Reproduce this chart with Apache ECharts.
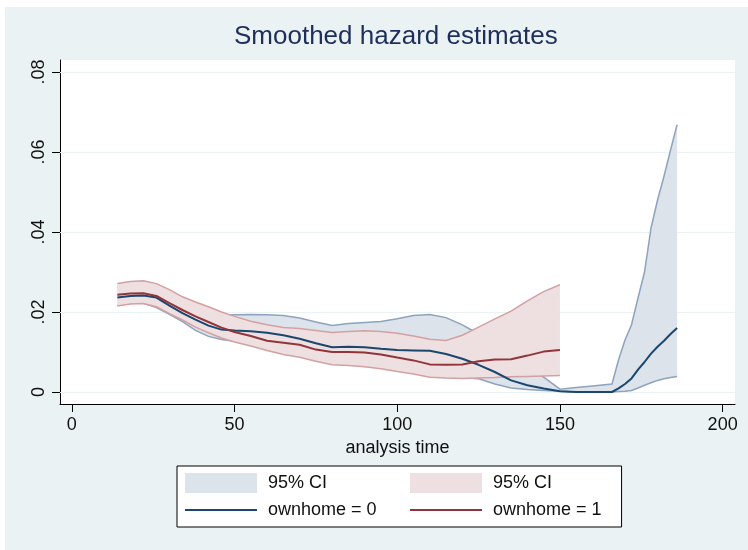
<!DOCTYPE html>
<html>
<head>
<meta charset="utf-8">
<script src="https://cdn.jsdelivr.net/npm/echarts@6/dist/echarts.min.js"></script>
<style>
  html, body { margin: 0; padding: 0; background: #fff; }
  #panel { position: absolute; left: 5px; top: 7px; width: 743px; height: 543px; background: #eaf2f3; }
  #chart { position: absolute; left: 0; top: 0; width: 748px; height: 550px; }
</style>
</head>
<body>
<div id="panel"></div>
<div id="chart"></div>
<script>
// analysis time points
const timeRed = [14, 18, 22, 26, 30, 34, 38, 42, 46, 50, 55, 60, 65, 70, 75, 80, 85, 90, 95, 100,
  105, 110, 115, 120, 125, 130, 135, 140, 145, 150];
const timeBlue = [14, 18, 22, 26, 30, 34, 38, 42, 46, 50, 55, 60, 65, 70, 75, 80, 85, 90, 95, 100,
  105, 110, 115, 120, 125, 130, 135, 140, 145, 150, 155, 160, 166, 168, 170, 172, 174, 176, 178,
  180, 182, 184, 186];

// ownhome = 0
const hazard0 = [0.0236, 0.0240, 0.0241, 0.0236, 0.0216, 0.0197, 0.0181, 0.0166, 0.0156, 0.0154,
  0.0152, 0.0148, 0.0142, 0.0133, 0.0122, 0.0112, 0.0113, 0.0112, 0.0108, 0.0105, 0.0104, 0.0103,
  0.0095, 0.0083, 0.0068, 0.0050, 0.0029, 0.0017, 0.0009, 0.0002, 0, 0, 0, 0.0009, 0.0020, 0.0034,
  0.0056, 0.0075, 0.0096, 0.0113, 0.0128, 0.0145, 0.0160];
const upper0 = [0.0262, 0.0266, 0.0267, 0.0260, 0.0242, 0.0225, 0.0212, 0.0200, 0.0192, 0.0193,
  0.0194, 0.0193, 0.0191, 0.0185, 0.0175, 0.0166, 0.0171, 0.0174, 0.0176, 0.0183, 0.0191, 0.0194,
  0.0186, 0.0168, 0.0145, 0.0115, 0.0085, 0.0058, 0.0037, 0.0007, 0.0011, 0.0015, 0.0020, 0.0080,
  0.0130, 0.0168, 0.0235, 0.0300, 0.0410, 0.0480, 0.0540, 0.0605, 0.0668];
const lower0 = [0.0218, 0.0222, 0.0222, 0.0211, 0.0194, 0.0176, 0.0154, 0.0139, 0.0131, 0.0127,
  0.0118, 0.0108, 0.0099, 0.0092, 0.0082, 0.0073, 0.0070, 0.0067, 0.0062, 0.0057, 0.0050, 0.0042,
  0.0040, 0.0036, 0.0033, 0.0020, 0.0010, 0.0006, 0.0004, 0.0002, 0, 0, 0, 0.0001, 0.0002, 0.0004,
  0.0010, 0.0017, 0.0023, 0.0029, 0.0033, 0.0036, 0.0039];

// ownhome = 1
const hazard1 = [0.0243, 0.0246, 0.0247, 0.0240, 0.0222, 0.0205, 0.0189, 0.0175, 0.0161, 0.0150,
  0.0140, 0.0128, 0.0123, 0.0118, 0.0106, 0.0100, 0.0100, 0.0099, 0.0094, 0.0086, 0.0079, 0.0069,
  0.0068, 0.0069, 0.0077, 0.0081, 0.0082, 0.0091, 0.0101, 0.0105];
const upper1 = [0.0271, 0.0276, 0.0278, 0.0271, 0.0256, 0.0238, 0.0225, 0.0213, 0.0200, 0.0189,
  0.0177, 0.0168, 0.0161, 0.0159, 0.0154, 0.0149, 0.0151, 0.0153, 0.0151, 0.0147, 0.0140, 0.0132,
  0.0129, 0.0142, 0.0162, 0.0183, 0.0202, 0.0228, 0.0251, 0.0268];
const lower1 = [0.0215, 0.0220, 0.0221, 0.0213, 0.0196, 0.0180, 0.0162, 0.0148, 0.0135, 0.0125,
  0.0115, 0.0104, 0.0094, 0.0087, 0.0077, 0.0068, 0.0066, 0.0063, 0.0058, 0.0051, 0.0045, 0.0037,
  0.0035, 0.0034, 0.0035, 0.0036, 0.0038, 0.0039, 0.0040, 0.0041];

const xTicks = [0, 50, 100, 150, 200];
const yTicks = [0, 0.02, 0.04, 0.06, 0.08];

const FONT = "'Liberation Sans', Arial, sans-serif";
const NAVY = '#1a476f';
const MAROON = '#90353b';
const NAVY_FILL = '#dde3ea';
const NAVY_EDGE = '#8da3be';
const MAROON_FILL = '#eedfe0';
const MAROON_EDGE = '#d3a0a3';
// thin horizontal bar used as legend key for the lines
const LINE_KEY = 'path://M0,0 M72,20 M0,9 L72,9 L72,11 L0,11 Z';

const pairs = (xs, ys) => xs.map((x, i) => [x, ys[i]]);

// CI band: filled polygon between lower and upper, both edges outlined
function band(name, xs, lo, hi, fill, edge, z) {
  return {
    name: name,
    type: 'custom',
    z: z,
    silent: true,
    itemStyle: { color: fill },
    data: [[xs[0], lo[0]]],
    encode: { x: 0, y: 1 },
    renderItem: function (params, api) {
      const up = xs.map((x, i) => api.coord([x, hi[i]]));
      const down = xs.map((x, i) => api.coord([x, lo[i]]));
      return {
        type: 'group',
        children: [
          { type: 'polygon', shape: { points: up.concat(down.slice().reverse()) },
            style: { fill: fill, stroke: null } },
          { type: 'polyline', shape: { points: up },
            style: { stroke: edge, lineWidth: 1.5, fill: null } },
          { type: 'polyline', shape: { points: down },
            style: { stroke: edge, lineWidth: 1.5, fill: null } }
        ]
      };
    }
  };
}

const chart = echarts.init(document.getElementById('chart'), null, { renderer: 'canvas' });

const option = {
  animation: false,
  textStyle: { fontFamily: FONT },
  title: {
    text: 'Smoothed hazard estimates',
    left: 234,
    top: 24,
    padding: 0,
    textStyle: { fontFamily: FONT, fontSize: 26, fontWeight: 'normal', color: '#1e2f5b' }
  },
  grid: {
    left: 60, right: 13, top: 60, bottom: 146,
    show: true, backgroundColor: '#fff', borderWidth: 0
  },
  legend: {
    left: 177,
    top: 466,
    width: 432,
    padding: [7, 20, 7, 8],
    backgroundColor: '#fff',
    borderColor: '#000',
    borderWidth: 1,
    borderRadius: 0,
    itemWidth: 72,
    itemHeight: 20,
    itemGap: 7,
    selectedMode: false,
    textStyle: {
      fontFamily: FONT, fontSize: 18, color: '#111',
      width: 135, lineHeight: 20, padding: [0, 0, 0, 6]
    },
    data: [
      { name: '95% CI', icon: 'rect', itemStyle: { color: NAVY_FILL, borderWidth: 0 } },
      { name: '95% CI ', icon: 'rect', itemStyle: { color: MAROON_FILL, borderWidth: 0 },
        textStyle: { width: 104 } },
      { name: 'ownhome = 0', icon: LINE_KEY, itemStyle: { color: NAVY, borderWidth: 0 } },
      { name: 'ownhome = 1', icon: LINE_KEY, itemStyle: { color: MAROON, borderWidth: 0 },
        textStyle: { width: 104 } }
    ]
  },
  xAxis: {
    type: 'value',
    min: -3.63,
    max: 203.8,
    name: 'analysis time',
    nameLocation: 'middle',
    nameGap: 26,
    nameTextStyle: { fontFamily: FONT, fontSize: 18, color: '#111' },
    axisLine: { show: true, onZero: false, lineStyle: { color: '#000', width: 1 } },
    axisTick: { show: true, length: 8, customValues: xTicks, lineStyle: { color: '#000' } },
    axisLabel: { customValues: xTicks, margin: 12, fontFamily: FONT, fontSize: 18, color: '#111' },
    splitLine: { show: false }
  },
  yAxis: {
    type: 'value',
    min: -0.003,
    max: 0.083,
    axisLine: { show: true, onZero: false, lineStyle: { color: '#000', width: 1 } },
    axisTick: { show: true, length: 8, customValues: yTicks, lineStyle: { color: '#000' } },
    axisLabel: {
      customValues: yTicks, rotate: 90, margin: 12,
      fontFamily: FONT, fontSize: 18, color: '#111',
      formatter: (v) => (v === 0 ? '0' : v.toFixed(2).replace(/^0/, ''))
    },
    splitLine: { show: false }
  },
  series: [
    band('95% CI', timeBlue, lower0, upper0, NAVY_FILL, NAVY_EDGE, 2),
    band('95% CI ', timeRed, lower1, upper1, MAROON_FILL, MAROON_EDGE, 3),
    {
      name: 'ownhome = 0',
      type: 'line',
      z: 4,
      symbol: 'none',
      silent: true,
      data: pairs(timeBlue, hazard0),
      lineStyle: { color: NAVY, width: 2 },
      itemStyle: { color: NAVY },
      markLine: {
        silent: true,
        z: 1,
        symbol: ['none', 'none'],
        label: { show: false },
        lineStyle: { color: '#eaf2f3', width: 1, type: 'solid' },
        emphasis: { disabled: true },
        data: yTicks.map((v) => ({ yAxis: v }))
      }
    },
    {
      name: 'ownhome = 1',
      type: 'line',
      z: 4,
      symbol: 'none',
      silent: true,
      data: pairs(timeRed, hazard1),
      lineStyle: { color: MAROON, width: 2 },
      itemStyle: { color: MAROON }
    }
  ]
};

chart.setOption(option);
</script>
</body>
</html>
